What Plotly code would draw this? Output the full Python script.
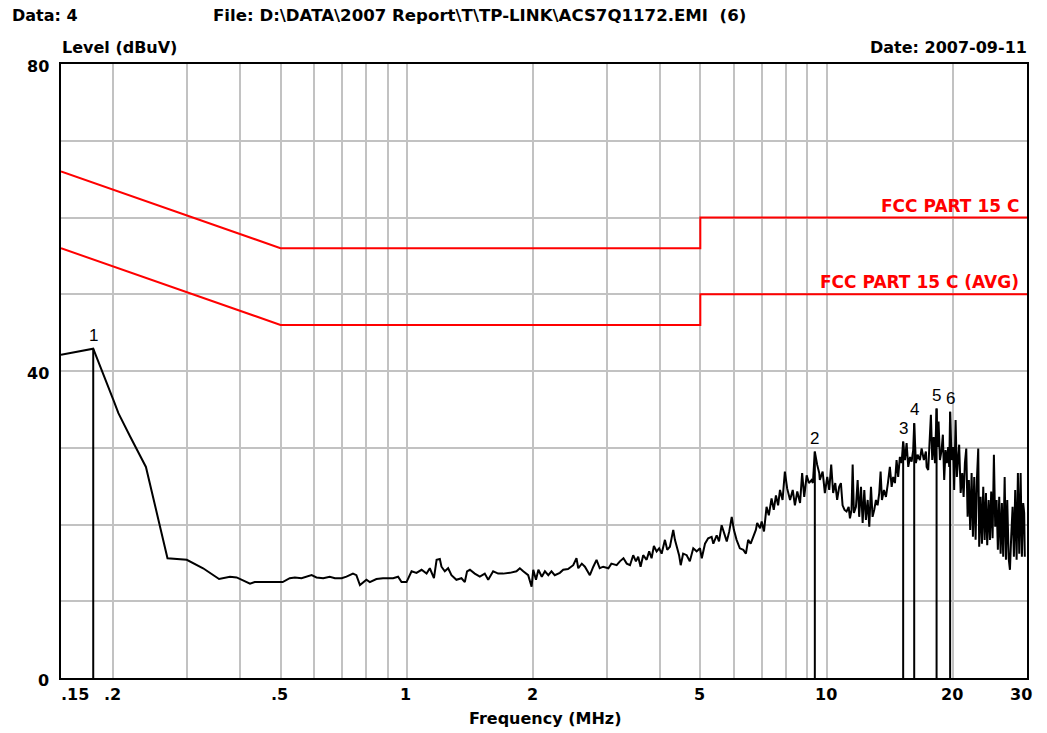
import numpy as np
import plotly.graph_objects as go

# ---- measured conducted-emission trace (frequency in MHz, level in dBuV) ----
freq_mhz = [
    0.150, 0.179, 0.200, 0.2055, 0.219, 0.229, 0.239, 0.256, 0.269, 0.299, 0.327, 0.357, 0.379,
    0.393, 0.423, 0.434, 0.506, 0.526, 0.541, 0.561, 0.593, 0.609, 0.632, 0.655, 0.674, 0.699,
    0.718, 0.744, 0.758, 0.773, 0.787, 0.801, 0.816, 0.846, 0.877, 0.927, 0.953, 0.971, 0.998,
    1.026, 1.054, 1.084, 1.114, 1.134, 1.160, 1.177, 1.198, 1.209, 1.231, 1.254, 1.277, 1.312,
    1.349, 1.374, 1.391, 1.413, 1.451, 1.492, 1.533, 1.562, 1.605, 1.650, 1.696, 1.759, 1.824,
    1.858, 1.893, 1.945, 1.982, 2.000, 2.030, 2.057, 2.096, 2.132, 2.172, 2.210, 2.250, 2.314,
    2.357, 2.420, 2.490, 2.535, 2.560, 2.610, 2.655, 2.728, 2.780, 2.830, 2.880, 2.935, 3.020,
    3.070, 3.160, 3.216, 3.280, 3.340,
    3.400, 3.460, 3.512, 3.556, 3.603, 3.655, 3.724, 3.777, 3.827, 3.876, 3.934, 3.990, 4.044,
    4.118, 4.170, 4.232, 4.270, 4.310, 4.350, 4.400, 4.450, 4.490, 4.550, 4.640, 4.720, 4.810,
    4.900, 4.990, 5.040, 5.130, 5.220, 5.320, 5.370, 5.470, 5.540, 5.620, 5.690, 5.780, 5.860,
    5.940, 6.010, 6.100, 6.210, 6.330, 6.420, 6.500, 6.590, 6.680, 6.780, 6.830, 6.940, 7.000,
    7.090, 7.190, 7.280, 7.390, 7.480, 7.570, 7.660, 7.740, 7.850, 7.950, 8.050, 8.180, 8.300,
    8.400, 8.510, 8.640, 8.740, 8.840, 8.960, 9.070, 9.200, 9.270, 9.370, 9.490, 9.600,
    9.630, 9.780, 9.900, 10.03, 10.14, 10.25, 10.36, 10.48, 10.59, 10.71, 10.81, 10.91, 11.03,
    11.15, 11.28, 11.36, 11.46, 11.53, 11.61, 11.74, 11.85, 11.95, 12.07, 12.18, 12.29, 12.40,
    12.52, 12.63, 12.75, 12.86, 12.98, 13.10, 13.22, 13.34, 13.44, 13.54, 13.69, 13.84, 13.99,
    14.14, 14.28, 14.40, 14.54, 14.67, 14.80, 14.94, 15.08, 15.21, 15.36, 15.50, 15.64, 15.79,
    15.93, 16.07, 16.16, 16.31, 16.46, 16.67, 16.83, 17.04, 17.23, 17.30, 17.45, 17.52, 17.62,
    17.71, 17.84, 17.98, 18.11, 18.27, 18.37, 18.47, 18.61, 18.78, 18.91, 19.05, 19.19, 19.33,
    19.47, 19.58, 19.68, 19.84, 20.01, 20.12, 20.28, 20.42, 20.57, 20.68, 20.85, 21.03, 21.19,
    21.34, 21.50, 21.66, 21.81, 21.97, 22.14, 22.30, 22.46, 22.63, 22.79, 22.96, 23.08, 23.26,
    23.43, 23.60, 23.78, 23.95, 24.12, 24.31, 24.48, 24.65, 24.84, 25.02, 25.20, 25.39, 25.57,
    25.76, 25.96, 26.14, 26.33, 26.54, 26.73, 26.92, 27.13, 27.32, 27.51, 27.72, 27.92, 28.12,
    28.34, 28.54, 28.75, 28.97, 29.17, 29.38, 29.54, 29.64,
]
level_dbuv = [
    42.1, 42.9, 36.2, 34.5, 31.5, 29.5, 27.5, 20.6, 15.6, 15.4, 14.3, 12.9, 13.2,
    13.1, 12.3, 12.5, 12.5, 13.0, 13.1, 13.0, 13.4, 13.1, 13.0, 13.2, 13.0, 13.0,
    13.2, 13.6, 13.4, 12.1, 12.5, 12.8, 12.5, 12.9, 13.0, 13.0, 13.2, 12.5, 12.5,
    13.9, 13.7, 14.1, 13.6, 14.3, 13.0, 15.4, 15.5, 14.5, 13.9, 14.3, 13.4, 12.8,
    13.0, 12.5, 13.9, 14.1, 13.6, 13.2, 13.6, 12.8, 13.9, 13.6, 13.6, 13.7, 13.9,
    14.3, 13.9, 13.4, 11.9, 14.1, 12.8, 14.1, 13.2, 13.9, 13.4, 13.9, 13.4, 13.7,
    14.1, 14.2, 14.7, 15.6, 14.3, 14.9, 14.5, 13.4, 14.5, 15.4, 14.3, 14.5, 14.3,
    14.9, 14.7, 15.2, 15.6, 14.9,
    14.7, 16.0, 15.2, 15.8, 14.5, 16.0, 15.4, 16.5, 15.6, 17.2, 16.5, 16.9, 16.2,
    18.0, 16.7, 17.1, 18.2, 19.3, 18.0, 17.1, 16.0, 14.7, 16.2, 16.0, 15.2, 16.9,
    16.5, 16.9, 15.6, 17.5, 18.2, 18.4, 17.5, 18.6, 17.8, 19.9, 19.1, 17.8, 19.1,
    21.0, 19.3, 18.0, 16.9, 16.7, 16.2, 18.0, 17.5, 18.4, 19.3, 20.2, 19.5, 20.4,
    19.1, 22.3, 21.2, 23.4, 21.9, 23.8, 22.5, 24.5, 23.2, 26.9, 24.7, 23.2, 24.5,
    22.5, 24.3, 22.8, 26.7, 23.6, 26.4, 25.4, 25.8, 25.4, 29.5, 27.8, 26.7,
    25.8, 26.9, 24.1, 26.2, 24.5, 27.8, 24.1, 25.4, 23.2, 24.9, 25.4, 22.5, 21.9,
    21.7, 22.3, 20.8, 21.9, 27.8, 21.5, 22.3, 25.8, 21.0, 24.9, 20.2, 24.5, 20.6,
    23.2, 19.7, 24.9, 21.0, 21.9, 23.2, 22.5, 24.1, 26.9, 23.2, 24.5, 23.6, 25.4,
    27.5, 24.9, 26.2, 25.4, 28.4, 26.2, 28.8, 28.0, 30.8, 28.4, 30.6, 27.5, 28.8,
    28.2, 29.7, 33.2, 28.0, 29.1, 28.4, 29.9, 28.4, 29.5, 27.5, 27.1, 29.3, 31.0,
    34.3, 28.4, 31.4, 28.0, 35.1, 30.1, 33.4, 28.4, 29.7, 31.7, 25.8, 29.7, 28.0,
    30.1, 27.5, 34.7, 28.4, 30.1, 24.5, 33.6, 26.2, 28.8, 30.4, 24.1, 26.7, 23.6,
    28.0, 29.9, 21.0, 25.8, 19.3, 26.7, 18.4, 26.2, 18.0, 25.8, 29.9, 17.1, 23.6,
    17.5, 24.9, 18.0, 24.1, 17.3, 23.2, 18.0, 24.3, 18.2, 29.1, 19.7, 23.2, 16.7,
    23.6, 16.2, 22.8, 15.8, 26.2, 15.4, 23.2, 15.6, 14.1, 18.4, 22.3, 15.8, 24.5,
    15.4, 26.7, 16.2, 26.7, 15.8, 22.8, 21.5, 15.8,
]

# ---- FCC Part 15 C limit lines ----
limit_freq = [0.15, 0.5, 5.0, 5.0, 30.0]
limit_qp = [66, 56, 56, 60, 60]
limit_avg = [56, 46, 46, 50, 50]
limit_names = ["FCC PART 15 C", "FCC PART 15 C (AVG)"]

# ---- peak markers ----
marker_ids = ["1", "2", "3", "4", "5", "6"]
marker_freq = [0.179, 9.37, 15.21, 16.16, 18.27, 19.68]
marker_level = [42.9, 29.5, 30.8, 33.2, 35.1, 34.7]

# ---- axes ----
x_grid = [0.2, 0.3, 0.4, 0.5, 0.6, 0.7, 0.8, 0.9, 1, 2, 3, 4, 5, 6, 7, 8, 9, 10, 20]
x_tick_vals = [0.15, 0.2, 0.5, 1, 2, 5, 10, 20, 30]
x_tick_text = [".15", ".2", ".5", "1", "2", "5", "10", "20", "30"]
y_tick_vals = [0, 40, 80]
y_grid = [10, 20, 30, 40, 50, 60, 70]

BOLD = "DejaVu Sans"
GRID = "#c2c2c2"

fig = go.Figure()

# limit lines
fig.add_trace(go.Scatter(x=limit_freq, y=limit_qp, mode="lines",
                         line=dict(color="#ff0000", width=2), hoverinfo="skip"))
fig.add_trace(go.Scatter(x=limit_freq, y=limit_avg, mode="lines",
                         line=dict(color="#ff0000", width=2), hoverinfo="skip"))

# measured trace
fig.add_trace(go.Scatter(x=freq_mhz, y=level_dbuv, mode="lines",
                         line=dict(color="#000000", width=2), hoverinfo="skip"))

# marker stems from 0 dB to each peak
stem_x, stem_y = [], []
for f, lv in zip(marker_freq, marker_level):
    stem_x += [f, f, None]
    stem_y += [0, lv, None]
fig.add_trace(go.Scatter(x=stem_x, y=stem_y, mode="lines",
                         line=dict(color="#000000", width=2), hoverinfo="skip"))

ann = []
# marker numbers
for mid, f, lv in zip(marker_ids, marker_freq, marker_level):
    ann.append(dict(x=np.log10(f), y=lv, xref="x", yref="y", text=mid, showarrow=False,
                    xanchor="center", yanchor="bottom", yshift=2,
                    font=dict(family="Liberation Sans", size=17, color="#000000")))

# limit labels
for name, lim in zip(limit_names, [limit_qp, limit_avg]):
    ann.append(dict(x=np.log10(limit_freq[-1]), y=lim[-1], xref="x", yref="y", text=f"<b>{name}</b>",
                    showarrow=False, xanchor="right", yanchor="bottom", xshift=-6, yshift=0,
                    font=dict(family=BOLD, size=17, color="#ff0000")))

# x tick labels
for v, t in zip(x_tick_vals, x_tick_text):
    xa, xs = "center", -1
    if t == ".15":
        xa, xs = "left", -2
    elif t == "30":
        xa, xs = "center", -6
    ann.append(dict(x=np.log10(v), y=0, xref="x", yref="paper", text=f"<b>{t}</b>", showarrow=False,
                    xanchor=xa, yanchor="middle", xshift=xs, yshift=-16,
                    font=dict(family=BOLD, size=16, color="#000000")))

# y tick labels
for v in y_tick_vals:
    ann.append(dict(x=0, y=v, xref="paper", yref="y", text=f"<b>{v}</b>", showarrow=False,
                    xanchor="right", yanchor="middle", xshift=-10, yshift=-2,
                    font=dict(family=BOLD, size=16, color="#000000")))

# header and axis titles
def label(text, x, y, xa, xs, ys, size=16):
    return dict(x=x, y=y, xref="paper", yref="paper", text=f"<b>{text}</b>", showarrow=False,
                xanchor=xa, yanchor="middle", xshift=xs, yshift=ys,
                font=dict(family=BOLD, size=size, color="#000000"))

ann.append(label("Data: 4", 0, 1, "left", -51, 49))
ann.append(label("File: D:\\DATA\\2007 Report\\T\\TP-LINK\\ACS7Q1172.EMI  (6)", 0, 1, "left", 150, 49, 16.6))
ann.append(label("Level (dBuV)", 0, 1, "left", -1, 17))
ann.append(label("Date: 2007-09-11", 1, 1, "right", 2, 17))
ann.append(label("Frequency (MHz)", 0.501, 0, "center", 0, -40))

fig.update_layout(
    width=1047, height=733,
    margin=dict(l=61, r=20, t=64, b=55),
    paper_bgcolor="#ffffff", plot_bgcolor="#ffffff",
    showlegend=False,
    annotations=ann,
    xaxis=dict(type="log", range=[np.log10(0.15), np.log10(30)],
               tickvals=x_grid, showticklabels=False, ticks="",
               showgrid=True, gridcolor=GRID, gridwidth=2, zeroline=False,
               showline=True, mirror=True, linecolor="#000000", linewidth=1.5),
    yaxis=dict(range=[0, 80], tickvals=y_grid, showticklabels=False, ticks="",
               showgrid=True, gridcolor=GRID, gridwidth=2, zeroline=False,
               showline=True, mirror=True, linecolor="#000000", linewidth=1.5),
)

fig.write_html("out.html")
